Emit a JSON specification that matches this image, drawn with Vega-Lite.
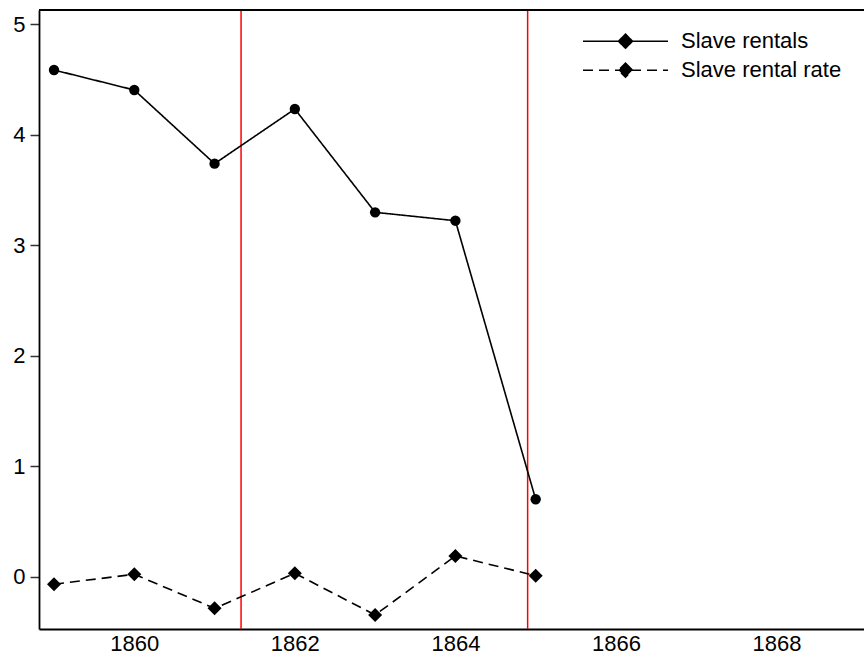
{
  "$schema": "https://vega.github.io/schema/vega-lite/v6.json",
  "width": 825,
  "height": 619,
  "autosize": {"type": "none"},
  "padding": {"left": 39, "top": 10, "right": 0, "bottom": 29},
  "background": "white",
  "config": {
    "view": {"stroke": null},
    "font": "Liberation Sans",
    "axis": {"grid": false, "labelFont": "Liberation Sans", "labelFontSize": 22, "labelColor": "black", "domainColor": "black", "domainWidth": 1.8, "title": null}
  },
  "datasets": {
    "series": [
      {"year": 1859, "value": 4.584, "series": "Slave rentals"},
      {"year": 1860, "value": 4.403, "series": "Slave rentals"},
      {"year": 1861, "value": 3.736, "series": "Slave rentals"},
      {"year": 1862, "value": 4.231, "series": "Slave rentals"},
      {"year": 1863, "value": 3.296, "series": "Slave rentals"},
      {"year": 1864, "value": 3.220, "series": "Slave rentals"},
      {"year": 1865, "value": 0.699, "series": "Slave rentals"},
      {"year": 1859, "value": -0.07, "series": "Slave rental rate"},
      {"year": 1860, "value": 0.02, "series": "Slave rental rate"},
      {"year": 1861, "value": -0.288, "series": "Slave rental rate"},
      {"year": 1862, "value": 0.029, "series": "Slave rental rate"},
      {"year": 1863, "value": -0.348, "series": "Slave rental rate"},
      {"year": 1864, "value": 0.186, "series": "Slave rental rate"},
      {"year": 1865, "value": 0.007, "series": "Slave rental rate"}
    ],
    "events": [
      {"year": 1861.33},
      {"year": 1864.9}
    ],
    "frame": [{"top": 5.127}]
  },
  "layer": [
    {
      "data": {"name": "events"},
      "mark": {"type": "rule", "color": "#ff0000", "strokeWidth": 1.5},
      "encoding": {
        "x": {"field": "year", "type": "quantitative", "scale": {"domain": [1858.813, 1869.09], "nice": false, "zero": false},
          "axis": {"values": [1860, 1862, 1864, 1866, 1868], "format": "d", "ticks": false, "labelPadding": 4}}
      }
    },
    {
      "data": {"name": "frame"},
      "mark": {"type": "rule", "color": "black", "strokeWidth": 1.8},
      "encoding": {
        "y": {"field": "top", "type": "quantitative", "scale": {"domain": [-0.475, 5.127], "nice": false, "zero": false},
          "axis": {"values": [0, 1, 2, 3, 4, 5], "format": "d", "tickSize": 9, "tickColor": "#333333", "tickWidth": 1.5, "labelPadding": 5}}
      }
    },
    {
      "data": {"name": "series"},
      "mark": {"type": "line", "color": "black", "strokeWidth": 1.6},
      "encoding": {
        "x": {"field": "year", "type": "quantitative"},
        "y": {"field": "value", "type": "quantitative"},
        "detail": {"field": "series"},
        "strokeDash": {
          "field": "series", "type": "nominal",
          "scale": {"domain": ["Slave rentals", "Slave rental rate"], "range": [[1, 0], [10, 6]]},
          "legend": {
            "orient": "none", "legendX": 575.5, "legendY": 20.2, "title": null, "padding": 0,
            "symbolSize": 400, "labelOffset": 44.5, "labelFontSize": 22, "labelFont": "Liberation Sans", "labelColor": "black",
            "rowPadding": 7, "labelLimit": 0, "symbolStrokeWidth": 1.6, "symbolStrokeColor": "black", "symbolFillColor": "black", "symbolOpacity": 1,
            "symbolType": "M-4.25,0L4.25,0",
            "encode": {
              "symbols": {
                "update": {
                  "shape": {
                    "condition": {"test": "datum.index == 0 || datum.value == 'Slave rentals'", "value": "M-4.25,0L4.25,0M0.55,0A0.55,0.55,0,1,1,-0.55,0A0.55,0.55,0,1,1,0.55,0Z"},
                    "value": "M-4.25,0L4.25,0M0,-0.7L0.7,0L0,0.7L-0.7,0Z"
                  },
                  "fill": {"value": "black"},
                  "stroke": {"value": "black"},
                  "strokeWidth": {"value": 1.6},
                  "opacity": {"value": 1}
                }
              }
            }
          }
        }
      }
    },
    {
      "data": {"name": "series"},
      "transform": [{"filter": {"field": "series", "equal": "Slave rentals"}}],
      "mark": {"type": "point", "filled": true, "color": "black", "opacity": 1, "shape": "circle", "size": 107},
      "encoding": {
        "x": {"field": "year", "type": "quantitative"},
        "y": {"field": "value", "type": "quantitative"}
      }
    },
    {
      "data": {"name": "series"},
      "transform": [{"filter": {"field": "series", "equal": "Slave rental rate"}}],
      "mark": {"type": "point", "filled": true, "color": "black", "opacity": 1, "shape": "diamond", "size": 196},
      "encoding": {
        "x": {"field": "year", "type": "quantitative"},
        "y": {"field": "value", "type": "quantitative"}
      }
    }
  ]
}
